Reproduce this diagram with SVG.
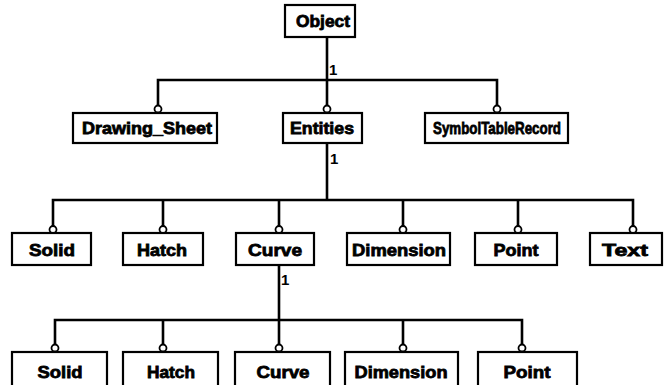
<svg xmlns="http://www.w3.org/2000/svg" width="664" height="385" viewBox="0 0 664 385">
  <style>
    .box { fill: #fff; stroke: #000; stroke-width: 2.2; }
    .lbl { font-family: "Liberation Sans", Arial, sans-serif; font-weight: bold; font-size: 17px; fill: #000; stroke: #000; stroke-width: 0.8; text-anchor: middle; }
    .mult { font-family: "Liberation Sans", Arial, sans-serif; font-weight: bold; font-size: 15px; fill: #000; }
    .wire { fill: none; stroke: #000; stroke-width: 2.6; }
    .tip { fill: #fff; stroke: #000; stroke-width: 1.8; }
  </style>
  <rect width="664" height="385" fill="#fff"/>

  <!-- connectors -->
  <g id="connectors">
    <!-- Object to first level -->
    <path class="wire" d="M327 37 V105.5 M158 105.5 V80 H497 V105.5"/>
    <!-- Entities to second level -->
    <path class="wire" d="M327 143 V200 M53 226 V200 H633 V226 M163 200 V226 M279 200 V226 M403 200 V226 M518 200 V226"/>
    <!-- Curve to third level -->
    <path class="wire" d="M279 265 V344.5 M55 344.5 V320 H522 V344.5 M163 320 V344.5 M403 320 V344.5"/>
    <!-- hollow ends -->
    <circle class="tip" cx="158" cy="109" r="3.5"/>
    <circle class="tip" cx="327" cy="109" r="3.5"/>
    <circle class="tip" cx="497" cy="109" r="3.5"/>
    <circle class="tip" cx="53" cy="229.5" r="3.5"/>
    <circle class="tip" cx="163" cy="229.5" r="3.5"/>
    <circle class="tip" cx="279" cy="229.5" r="3.5"/>
    <circle class="tip" cx="403" cy="229.5" r="3.5"/>
    <circle class="tip" cx="518" cy="229.5" r="3.5"/>
    <circle class="tip" cx="633" cy="229.5" r="3.5"/>
    <circle class="tip" cx="55" cy="348" r="3.5"/>
    <circle class="tip" cx="163" cy="348" r="3.5"/>
    <circle class="tip" cx="279" cy="348" r="3.5"/>
    <circle class="tip" cx="403" cy="348" r="3.5"/>
    <circle class="tip" cx="522" cy="348" r="3.5"/>
    <!-- multiplicities -->
    <text class="mult" x="329" y="75">1</text>
    <text class="mult" x="330" y="164">1</text>
    <text class="mult" x="281" y="285">1</text>
  </g>

  <!-- root -->
  <g id="object">
    <rect class="box" x="285" y="5" width="70" height="32"/>
    <text class="lbl" x="323" y="27" textLength="54" lengthAdjust="spacingAndGlyphs">Object</text>
  </g>

  <!-- first level -->
  <g id="drawing-sheet">
    <rect class="box" x="73" y="113" width="144" height="30"/>
    <text class="lbl" x="147" y="134" textLength="130" lengthAdjust="spacingAndGlyphs">Drawing_Sheet</text>
  </g>
  <g id="entities">
    <rect class="box" x="283" y="113" width="79" height="30"/>
    <text class="lbl" x="322" y="134" textLength="64" lengthAdjust="spacingAndGlyphs">Entities</text>
  </g>
  <g id="symbol-table-record">
    <rect class="box" x="425" y="113" width="143" height="30"/>
    <text class="lbl" x="497" y="134" textLength="128" lengthAdjust="spacingAndGlyphs">SymbolTableRecord</text>
  </g>

  <!-- second level -->
  <g id="solid-1">
    <rect class="box" x="12" y="233" width="79" height="32"/>
    <text class="lbl" x="52" y="256" textLength="46" lengthAdjust="spacingAndGlyphs">Solid</text>
  </g>
  <g id="hatch-1">
    <rect class="box" x="123" y="233" width="80" height="32"/>
    <text class="lbl" x="162" y="256" textLength="50" lengthAdjust="spacingAndGlyphs">Hatch</text>
  </g>
  <g id="curve-1">
    <rect class="box" x="236" y="233" width="78" height="32"/>
    <text class="lbl" x="275" y="256" textLength="54" lengthAdjust="spacingAndGlyphs">Curve</text>
  </g>
  <g id="dimension-1">
    <rect class="box" x="347" y="233" width="103" height="32"/>
    <text class="lbl" x="399" y="256" textLength="94" lengthAdjust="spacingAndGlyphs">Dimension</text>
  </g>
  <g id="point-1">
    <rect class="box" x="475" y="233" width="82" height="32"/>
    <text class="lbl" x="516" y="256" textLength="45" lengthAdjust="spacingAndGlyphs">Point</text>
  </g>
  <g id="text-1">
    <rect class="box" x="590" y="233" width="72" height="32"/>
    <text class="lbl" x="625" y="256" textLength="46" lengthAdjust="spacingAndGlyphs">Text</text>
  </g>

  <!-- third level -->
  <g id="solid-2">
    <rect class="box" x="12" y="352" width="95" height="40"/>
    <text class="lbl" x="60" y="378" textLength="45" lengthAdjust="spacingAndGlyphs">Solid</text>
  </g>
  <g id="hatch-2">
    <rect class="box" x="123" y="352" width="95" height="40"/>
    <text class="lbl" x="171" y="378" textLength="48" lengthAdjust="spacingAndGlyphs">Hatch</text>
  </g>
  <g id="curve-2">
    <rect class="box" x="235" y="352" width="95" height="40"/>
    <text class="lbl" x="283" y="378" textLength="53" lengthAdjust="spacingAndGlyphs">Curve</text>
  </g>
  <g id="dimension-2">
    <rect class="box" x="345" y="352" width="113" height="40"/>
    <text class="lbl" x="401" y="378" textLength="93" lengthAdjust="spacingAndGlyphs">Dimension</text>
  </g>
  <g id="point-2">
    <rect class="box" x="478" y="352" width="99" height="40"/>
    <text class="lbl" x="527" y="378" textLength="47" lengthAdjust="spacingAndGlyphs">Point</text>
  </g>
</svg>
